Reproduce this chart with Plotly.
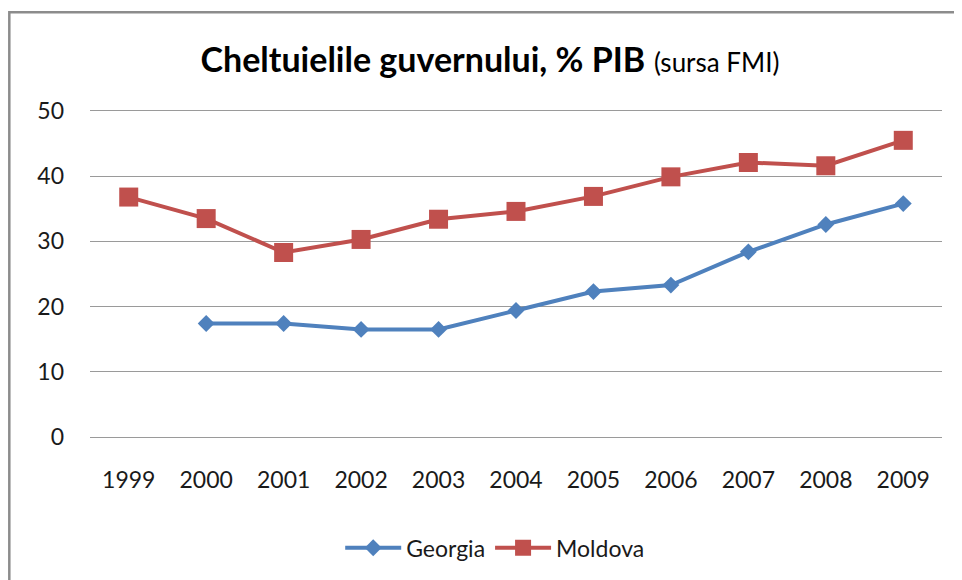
import plotly.graph_objects as go

years = ["1999", "2000", "2001", "2002", "2003", "2004", "2005", "2006", "2007", "2008", "2009"]
georgia = [None, 17.4, 17.4, 16.5, 16.5, 19.4, 22.3, 23.3, 28.4, 32.6, 35.8]
moldova = [36.8, 33.5, 28.3, 30.3, 33.4, 34.6, 36.9, 39.9, 42.1, 41.6, 45.5]
y_ticks = [0, 10, 20, 30, 40, 50]

FONT = "Lato"
GRID = "#9a9a9a"

fig = go.Figure()
fig.add_trace(go.Scatter(
    x=years, y=georgia, name="Georgia", mode="lines+markers",
    line=dict(color="#4F81BD", width=4),
    marker=dict(symbol="diamond", size=13, color="#4F81BD"),
    connectgaps=False,
))
fig.add_trace(go.Scatter(
    x=years, y=moldova, name="Moldova", mode="lines+markers",
    line=dict(color="#C0504D", width=4),
    marker=dict(symbol="square", size=19, color="#C0504D"),
))

# page body adds an 8px offset; margins compensate
fig.update_layout(
    width=962, height=580,
    paper_bgcolor="white", plot_bgcolor="white",
    margin=dict(l=82, r=28, t=103, b=151),
    font=dict(family=FONT, size=23, color="#1a1a1a"),
    title=dict(
        text="<b>Cheltuielile guvernului, % PIB</b> <span style='font-size:26px'>(sursa FMI)</span>",
        x=0.501, xanchor="center", y=0.91, yanchor="middle", xref="container", yref="container",
        font=dict(family=FONT, size=34, color="black"),
    ),
    xaxis=dict(
        type="category", range=[-0.5, 10.5], showgrid=False,
        showline=True, mirror=True, linecolor=GRID, linewidth=1.3,
        ticks="", ticklabelstandoff=22, tickfont=dict(size=23, color="#1a1a1a"),
    ),
    yaxis=dict(
        range=[0, 50], tickvals=y_ticks, showgrid=True, gridcolor=GRID, gridwidth=1.3,
        zeroline=False, showline=False, ticks="", ticklabelstandoff=25,
        tickfont=dict(size=23, color="#1a1a1a"),
    ),
    legend=dict(
        orientation="h", x=0.475, xanchor="center", y=-0.34, yanchor="middle",
        font=dict(size=23, color="#1a1a1a"), itemwidth=56,
    ),
    showlegend=True,
)

fig.add_shape(
    type="rect", xref="paper", yref="paper",
    x0=-0.0947, x1=1.1, y0=-0.5, y1=1.3028,
    line=dict(color="#8c8c8c", width=2.5), fillcolor="rgba(0,0,0,0)", layer="below",
)

fig.write_html("out.html")
